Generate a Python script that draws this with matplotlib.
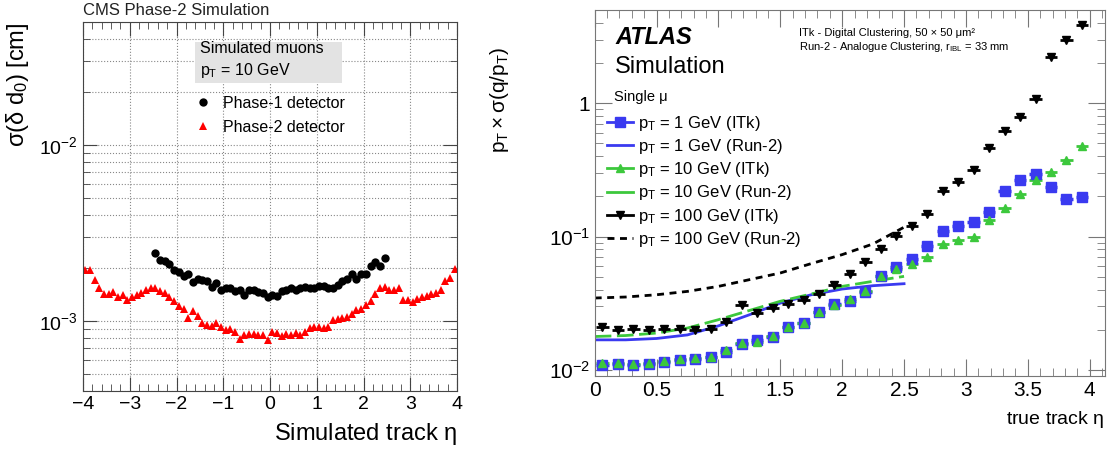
import numpy as np
import matplotlib
matplotlib.use("Agg")
import matplotlib.pyplot as plt
from matplotlib.lines import Line2D
from matplotlib.patches import Rectangle
from matplotlib.ticker import MultipleLocator, LogLocator, NullFormatter, FuncFormatter

plt.rcParams['font.family'] = ['Liberation Sans', 'DejaVu Sans']
plt.rcParams['mathtext.fontset'] = 'custom'
plt.rcParams['mathtext.rm'] = 'Liberation Sans'
plt.rcParams['mathtext.it'] = 'Liberation Sans'
plt.rcParams['mathtext.bf'] = 'Liberation Sans:bold'

# ---- left panel data (CMS d0 resolution) ----
eta_phase1 = np.round(np.arange(-2.45, 2.46, 0.1), 2)
d0_phase1 = [2.44, 2.23, 2.19, 2.11, 1.94, 1.91, 1.79, 1.84, 1.66, 1.73,
             1.70, 1.68, 1.57, 1.64, 1.50, 1.53, 1.54, 1.48, 1.49, 1.40,
             1.50, 1.50, 1.46, 1.45, 1.37, 1.40, 1.39, 1.48, 1.49, 1.54,
             1.50, 1.53, 1.57, 1.54, 1.54, 1.58, 1.58, 1.54, 1.53, 1.60,
             1.68, 1.73, 1.84, 1.74, 1.84, 1.85, 2.04, 2.15, 2.04, 2.28]  # x 1e-3 cm

eta_phase2 = np.round(np.arange(-3.95, 3.96, 0.1), 2)
d0_phase2 = [1.94, 1.94, 1.71, 1.54, 1.43, 1.42, 1.46, 1.36, 1.40, 1.31,
             1.36, 1.40, 1.45, 1.49, 1.53, 1.54, 1.48, 1.45, 1.37, 1.30,
             1.22, 1.17, 1.04, 1.14, 1.07, 0.97, 0.95, 0.94, 0.97, 0.93,
             0.89, 0.90, 0.86, 0.79, 0.83, 0.84, 0.84, 0.83, 0.83, 0.78,
             0.86, 0.855, 0.82, 0.84, 0.83, 0.85, 0.83, 0.86, 0.91, 0.93,
             0.92, 0.91, 0.92, 1.01, 1.02, 1.035, 1.05, 1.10, 1.15, 1.17,
             1.24, 1.30, 1.42, 1.54, 1.57, 1.50, 1.50, 1.53, 1.32, 1.31,
             1.275, 1.34, 1.37, 1.39, 1.43, 1.45, 1.50, 1.68, 1.76, 1.97]  # x 1e-3 cm

# ---- right panel data (ATLAS q/pT resolution) ----
eta_itk = np.arange(0.0625, 4.0, 0.125)
itk_1gev = [0.0109, 0.0110, 0.0109, 0.0110, 0.0114, 0.0118, 0.0121, 0.0124,
            0.0137, 0.0157, 0.0168, 0.0178, 0.0209, 0.0224, 0.0274, 0.0313,
            0.0326, 0.0382, 0.0502, 0.0590, 0.0677, 0.0855, 0.111, 0.119,
            0.128, 0.154, 0.219, 0.267, 0.296, 0.237, 0.190, 0.198]
itk_10gev = [0.0112, 0.0112, 0.0110, 0.0112, 0.0116, 0.0120, 0.0122, 0.0126,
             0.0140, 0.0159, 0.0163, 0.0180, 0.0209, 0.0224, 0.0274, 0.0308,
             0.0340, 0.0388, 0.0509, 0.0570, 0.0625, 0.0700, 0.0880, 0.0940,
             0.100, 0.132, 0.164, 0.207, 0.264, 0.305, 0.372, 0.476]
itk_100gev = [0.0209, 0.0198, 0.0202, 0.0200, 0.0203, 0.0203, 0.0200, 0.0202,
              0.0227, 0.0308, 0.0267, 0.0291, 0.0311, 0.0336, 0.0373, 0.0435,
              0.0525, 0.0641, 0.0811, 0.1017, 0.1203, 0.148, 0.219, 0.256,
              0.313, 0.461, 0.615, 0.788, 1.08, 2.24, 2.96, 3.88]

eta_run2 = [0, 0.25, 0.5, 0.75, 1.0, 1.25, 1.5, 1.75, 2.0, 2.25, 2.5]
run2_1gev = [0.0168, 0.0168, 0.0172, 0.0183, 0.0214, 0.0259, 0.0317, 0.0366, 0.0404, 0.0428, 0.0443]
run2_10gev = [0.0178, 0.0181, 0.0189, 0.0206, 0.0238, 0.0279, 0.0327, 0.0371, 0.0423, 0.0462, 0.0503]
run2_100gev = [0.0346, 0.0352, 0.0366, 0.0388, 0.0423, 0.0475, 0.0533, 0.0627, 0.0732, 0.0881, 0.1175]

W, H = 1109, 450
fig = plt.figure(figsize=(W / 100, H / 100), dpi=100)

# ================= left panel =================
ax1 = fig.add_axes([83 / W, (H - 391) / H, 374 / W, 369 / H])
ax1.plot(eta_phase1, np.array(d0_phase1) * 1e-3, 'o', color='black', ms=6, mew=0)
ax1.plot(eta_phase2, np.array(d0_phase2) * 1e-3, '^', color='red', ms=5.5, mew=0)
ax1.set_yscale('log')
ax1.set_xlim(-4, 4)
ax1.set_ylim(4e-4, 5e-2)
ax1.xaxis.set_major_locator(MultipleLocator(1))
ax1.xaxis.set_minor_locator(MultipleLocator(0.2))
ax1.yaxis.set_major_locator(LogLocator(base=10))
ax1.yaxis.set_minor_locator(LogLocator(base=10, subs=np.arange(2, 10)))
ax1.yaxis.set_minor_formatter(NullFormatter())
ax1.grid(True, which='major', axis='x', ls=':', color='#888888', lw=0.8)
ax1.grid(True, which='both', axis='y', ls=':', color='#888888', lw=0.8)
ax1.tick_params(which='both', direction='in', top=True, right=True, color='#444444')
ax1.tick_params(which='major', length=10, labelsize=14)
ax1.tick_params(which='minor', length=5)
for s in ax1.spines.values():
    s.set_color('#444444')
ax1.set_xlabel(r'Simulated track $\eta$', fontsize=17, loc='right')
ax1.xaxis.set_label_coords(1.0, -0.08)
ax1.set_ylabel(r'$\sigma(\delta\ d_0)$ [cm]', fontsize=17, loc='top')
ax1.yaxis.set_label_coords(-0.14, 1.0)
ax1.text(0.0, 1.03, 'CMS Phase-2 Simulation', transform=ax1.transAxes, fontsize=12,
         ha='left', va='center', color='#222222')
ax1.add_patch(Rectangle((0.299, 0.835), 0.394, 0.111, transform=ax1.transAxes,
                        facecolor='#e3e3e3', edgecolor='none', zorder=3))
ax1.text(0.314, 0.927, 'Simulated muons', transform=ax1.transAxes, fontsize=11.5,
         ha='left', va='center', zorder=4)
ax1.text(0.314, 0.868, r'$p_{T}$ = 10 GeV', transform=ax1.transAxes, fontsize=11.5,
         ha='left', va='center', zorder=4)
h1 = [Line2D([], [], ls='none', marker='o', color='black', ms=6, mew=0),
      Line2D([], [], ls='none', marker='^', color='red', ms=5.5, mew=0)]
ax1.legend(h1, ['Phase-1 detector', 'Phase-2 detector'], loc='upper left',
           bbox_to_anchor=(0.30, 0.80), frameon=False, fontsize=11.5,
           handlelength=1.0, handletextpad=0.75, labelspacing=0.55,
           borderpad=0, borderaxespad=0)

# ================= right panel =================
blue = '#3a3af0'
green = '#3cc83c'
ax2 = fig.add_axes([594.7 / W, (H - 376) / H, 509.8 / W, 366 / H])
ax2.plot(eta_run2, run2_1gev, '-', color=blue, lw=2)
ax2.plot(eta_run2, run2_10gev, '--', color=green, lw=2, dashes=(6, 2))
ax2.plot(eta_run2, run2_100gev, '--', color='black', lw=2, dashes=(2.5, 2))
ax2.errorbar(eta_itk, itk_100gev, xerr=0.05, fmt='v', color='black', ms=6,
             elinewidth=2, capsize=0)
ax2.errorbar(eta_itk, itk_1gev, xerr=0.05, fmt='s', color=blue, ms=6.5,
             elinewidth=2.5, capsize=0)
ax2.errorbar(eta_itk, itk_10gev, xerr=0.05, fmt='^', color=green, ms=6,
             elinewidth=2, capsize=0)
ax2.set_yscale('log')
ax2.set_xlim(0, 4.12)
ax2.set_ylim(0.009, 5.0)
ax2.xaxis.set_major_locator(MultipleLocator(0.5))
ax2.xaxis.set_minor_locator(MultipleLocator(0.1))
ax2.xaxis.set_major_formatter(FuncFormatter(lambda v, p: '%g' % v))
ax2.yaxis.set_major_locator(LogLocator(base=10))
ax2.yaxis.set_minor_locator(LogLocator(base=10, subs=np.arange(2, 10)))
ax2.yaxis.set_minor_formatter(NullFormatter())
ax2.yaxis.set_major_formatter(FuncFormatter(
    lambda v, p: '1' if abs(v - 1) < 1e-9 else r'$10^{%d}$' % round(np.log10(v))))
ax2.tick_params(which='both', direction='in', top=True, right=True, color='#777777')
ax2.tick_params(which='major', length=12, labelsize=15)
ax2.tick_params(which='minor', length=6)
for s in ax2.spines.values():
    s.set_color('#777777')
ax2.set_xlabel(r'true track $\eta$', fontsize=14, loc='right')
ax2.xaxis.set_label_coords(1.0, -0.09)
ax2.set_ylabel(r'$p_{T} \times \sigma(q/p_{T})$', fontsize=15, loc='top')
ax2.yaxis.set_label_coords(-0.165, 0.9)
ax2.text(0.04, 0.925, 'ATLAS', transform=ax2.transAxes, fontsize=17,
         fontweight='bold', fontstyle='italic', ha='left', va='center')
ax2.text(0.04, 0.845, 'Simulation', transform=ax2.transAxes, fontsize=17,
         ha='left', va='center')
ax2.text(0.40, 0.936, 'ITk - Digital Clustering, 50 × 50 μm²', transform=ax2.transAxes,
         fontsize=8, ha='left', va='center')
ax2.text(0.40, 0.899, r'Run-2 - Analogue Clustering, r$_{\mathrm{IBL}}$ = 33 mm',
         transform=ax2.transAxes, fontsize=8, ha='left', va='center')
ax2.text(0.038, 0.763, 'Single μ', transform=ax2.transAxes, fontsize=10.5,
         ha='left', va='center')
h2 = [Line2D([], [], color=blue, lw=2, marker='s', ms=6.5),
      Line2D([], [], color=blue, lw=2),
      Line2D([], [], color=green, lw=2, marker='^', ms=6),
      Line2D([], [], color=green, lw=2),
      Line2D([], [], color='black', lw=2, marker='v', ms=6),
      Line2D([], [], color='black', lw=2, ls='--', dashes=(2.5, 2))]
l2 = [r'$p_{T}$ = 1 GeV (ITk)', r'$p_{T}$ = 1 GeV (Run-2)',
      r'$p_{T}$ = 10 GeV (ITk)', r'$p_{T}$ = 10 GeV (Run-2)',
      r'$p_{T}$ = 100 GeV (ITk)', r'$p_{T}$ = 100 GeV (Run-2)']
ax2.legend(h2, l2, loc='upper left', bbox_to_anchor=(0.025, 0.716), frameon=False,
           fontsize=12, handlelength=1.55, handletextpad=0.3, labelspacing=0.25,
           borderpad=0, borderaxespad=0)

fig.savefig('out.png', dpi=100)
